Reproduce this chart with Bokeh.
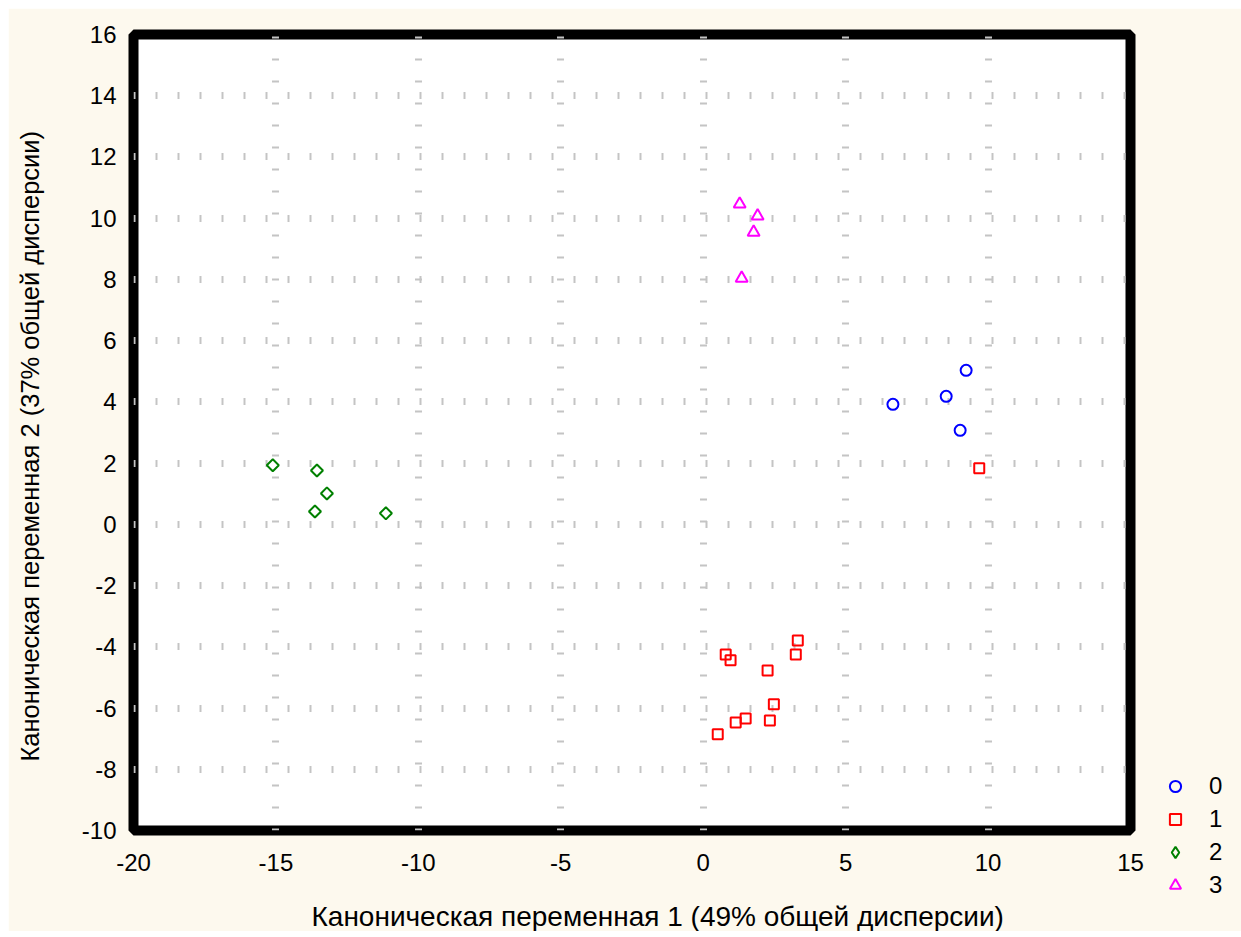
import math
from bokeh.plotting import figure
from bokeh.layouts import column, row
from bokeh.models import (FixedTicker, Legend, LegendItem, LinearAxis, Range1d,
                          Spacer, Title)
from bokeh.embed import file_html
from bokeh.resources import INLINE

# ---- data ----
g0_x = [6.66, 8.53, 9.23, 9.02]
g0_y = [3.92, 4.18, 5.03, 3.07]
g1_x = [9.69, 0.79, 0.96, 2.26, 3.32, 3.25, 2.48, 2.34, 1.49, 1.14, 0.51]
g1_y = [1.83, -4.25, -4.44, -4.77, -3.79, -4.25, -5.88, -6.41, -6.34, -6.47, -6.86]
g2_x = [-15.11, -13.56, -13.21, -13.63, -11.14]
g2_y = [1.93, 1.76, 1.01, 0.42, 0.36]
g3_x = [1.28, 1.91, 1.77, 1.35]
g3_y = [10.46, 10.07, 9.54, 8.04]
group_labels = ["0", "1", "2", "3"]
x_ticks = [-20, -15, -10, -5, 0, 5, 10, 15]
y_ticks = [-10, -8, -6, -4, -2, 0, 2, 4, 6, 8, 10, 12, 14, 16]
x_label = "Каноническая переменная 1 (49% общей дисперсии)"
y_label = "Каноническая переменная 2 (37% общей дисперсии)"

FONT = "Liberation Sans"
CREAM = "#FDF9EE"

p = figure(frame_width=997, frame_height=796,
           x_range=Range1d(-20, 15), y_range=Range1d(-10, 16),
           output_backend="svg", toolbar_location=None,
           min_border_left=125, min_border_top=26,
           min_border_right=103, min_border_bottom=99)
p.border_fill_color = CREAM
p.background_fill_color = "white"
p.outline_line_color = "black"
p.outline_line_width = 10

for ax, ticks in ((p.xaxis[0], x_ticks), (p.yaxis[0], y_ticks)):
    ax.axis_line_color = None
    ax.major_tick_line_color = None
    ax.minor_tick_line_color = None
    ax.major_label_text_font = FONT
    ax.major_label_text_font_size = "24px"
    ax.major_label_text_color = "black"
    ax.ticker = FixedTicker(ticks=ticks)
    ax.major_label_overrides = {t: str(t) for t in ticks}
p.xaxis[0].major_label_standoff = 17
p.yaxis[0].major_label_standoff = 11

for g in (p.xgrid[0], p.ygrid[0]):
    g.grid_line_color = "#c4c4c4"
    g.grid_line_width = 7
    g.grid_line_dash = "2 20"
p.xgrid[0].ticker = FixedTicker(ticks=x_ticks[1:-1])
p.ygrid[0].ticker = FixedTicker(ticks=y_ticks[1:-1])

# unlabeled axes with one background-coloured tick: gaps before axis titles
def gap_axis(px):
    return LinearAxis(ticker=FixedTicker(ticks=[0]), axis_line_color=None,
                      major_tick_line_color=CREAM, minor_tick_line_color=None,
                      major_tick_out=px, major_tick_in=0,
                      minor_tick_out=0, minor_tick_in=0,
                      major_label_overrides={0: ""},
                      major_label_text_font_size="0px",
                      major_label_standoff=0)

p.add_layout(gap_axis(25), "below")
p.add_layout(Title(text=x_label, align="left", offset=178, standoff=0,
                   text_font=FONT, text_font_size="28px",
                   text_font_style="normal", text_color="black"), "below")
p.add_layout(gap_axis(35), "left")
p.add_layout(Title(text=y_label, align="left", offset=69, standoff=0,
                   text_font=FONT, text_font_size="25.5px",
                   text_font_style="normal", text_color="black"), "left")

r0 = p.scatter(g0_x, g0_y, marker="circle", size=11, line_color="#0000FF",
               line_width=2, fill_alpha=0)
r1 = p.scatter(g1_x, g1_y, marker="square", size=10, line_color="#FF0000",
               line_width=2, fill_alpha=0)
r2 = p.scatter(g2_x, g2_y, marker="square", size=8.5, angle=math.pi / 4,
               line_color="#008000", line_width=2, fill_alpha=0)
r3 = p.scatter(g3_x, g3_y, marker="triangle", size=12, line_color="#FF00FF",
               line_width=2, fill_alpha=0)
# hidden twin of group 2 used only for its legend key (legend keys are unrotated)
r2_key = p.scatter(g2_x, g2_y, marker="diamond", line_color="#008000",
                   line_width=2, fill_alpha=0, visible=False)

legend = Legend(items=[LegendItem(label=lab, renderers=[r])
                       for lab, r in zip(group_labels, [r0, r1, r2_key, r3])],
                location=(31, -69), orientation="vertical",
                border_line_color=None, background_fill_alpha=0,
                padding=0, margin=0, spacing=5,
                glyph_width=28, glyph_height=28, label_height=20,
                label_standoff=20, label_text_font=FONT,
                label_text_font_size="24px", label_text_color="black")
p.add_layout(legend, "right")

layout = column(Spacer(height=8), row(Spacer(width=8), p))
open("out.html", "w").write(file_html(layout, INLINE))
